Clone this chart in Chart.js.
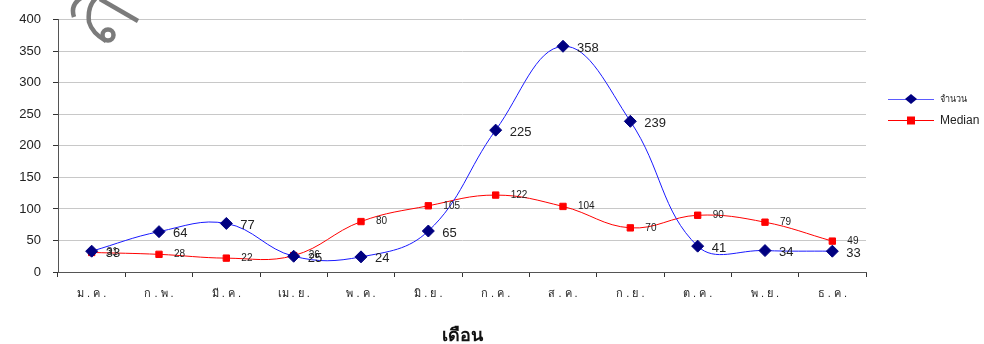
<!DOCTYPE html>
<html>
<head>
<meta charset="utf-8">
<script src="https://cdn.jsdelivr.net/npm/chart.js@4/dist/chart.umd.min.js"></script>
<style>
  html, body { margin: 0; padding: 0; background: #fff; }
  #wrap { width: 984px; height: 344px; position: relative; }
</style>
</head>
<body>
<div id="wrap"><canvas id="c" width="984" height="344"></canvas></div>
<script>
// Monthly counts and monthly median
const months = ['ม . ค .', 'ก . พ .', 'มี . ค .', 'เม . ย .', 'พ . ค .', 'มิ . ย .', 'ก . ค .', 'ส . ค .', 'ก . ย .', 'ต . ค .', 'พ . ย .', 'ธ . ค .'];
const countValues = [33, 64, 77, 25, 24, 65, 225, 358, 239, 41, 34, 33];
const medianValues = [31, 28, 22, 26, 80, 105, 122, 104, 70, 90, 79, 49];
const seriesNames = ['จำนวน', 'Median'];
const yTicks = [0, 50, 100, 150, 200, 250, 300, 350, 400];
const axisTitle = 'เดือน';

const FONT = "'Liberation Sans', Arial, sans-serif";

// value labels to the right of each marker
const valueLabels = {
  id: 'valueLabels',
  afterDatasetsDraw(chart) {
    const ctx = chart.ctx;
    ctx.save();
    ctx.textBaseline = 'middle';
    ctx.textAlign = 'left';
    chart.data.datasets.forEach((ds, i) => {
      const meta = chart.getDatasetMeta(i);
      ctx.font = (i === 0 ? '13px ' : '10px ') + FONT;
      ctx.fillStyle = '#222';
      meta.data.forEach((pt, j) => {
        ctx.fillText(String(ds.data[j]), pt.x + (i === 0 ? 14 : 15), pt.y + (i === 0 ? 2 : 0));
      });
    });
    ctx.restore();
  }
};

// legend at the right with line-through markers
const sideLegend = {
  id: 'sideLegend',
  afterDraw(chart) {
    const ctx = chart.ctx;
    ctx.save();
    const x0 = 888, x1 = 934;
    const rows = [99, 120];
    chart.data.datasets.forEach((ds, i) => {
      const y = rows[i];
      ctx.strokeStyle = i === 0 ? '#5b5bff' : ds.borderColor;
      ctx.lineWidth = 1;
      ctx.beginPath(); ctx.moveTo(x0, y + 0.5); ctx.lineTo(x1, y + 0.5); ctx.stroke();
      const mx = (x0 + x1) / 2;
      ctx.fillStyle = ds.pointBackgroundColor;
      if (i === 0) {
        ctx.beginPath();
        ctx.moveTo(mx, y - 5); ctx.lineTo(mx + 6, y); ctx.lineTo(mx, y + 5); ctx.lineTo(mx - 6, y);
        ctx.closePath(); ctx.fill();
      } else {
        ctx.fillRect(mx - 4, y - 3.5, 8, 8);
      }
      ctx.fillStyle = '#222';
      ctx.textBaseline = 'middle';
      ctx.font = (i === 0 ? '9px ' : '12px ') + FONT;
      ctx.fillText(seriesNames[i], 940, y + 1);
    });
    ctx.restore();
  }
};

// faded ornament at the top left corner
const cornerGlyph = {
  id: 'cornerGlyph',
  beforeDatasetsDraw(chart) {
    const ctx = chart.ctx;
    ctx.save();
    ctx.strokeStyle = '#7b7b7b';
    ctx.lineWidth = 4.5;
    ctx.lineCap = 'butt';
    ctx.beginPath();
    ctx.moveTo(74, 17);
    ctx.quadraticCurveTo(70, 5, 81, -2);
    ctx.stroke();
    ctx.beginPath();
    ctx.moveTo(97, -3);
    ctx.quadraticCurveTo(87, 6, 89, 22);
    ctx.quadraticCurveTo(92, 33, 106, 41);
    ctx.stroke();
    ctx.beginPath();
    ctx.arc(108, 35, 5.5, 0, Math.PI * 2);
    ctx.stroke();
    ctx.beginPath();
    ctx.moveTo(100, -1);
    ctx.lineTo(138, 21);
    ctx.stroke();
    ctx.restore();
  }
};

new Chart(document.getElementById('c'), {
  type: 'line',
  data: {
    labels: months,
    datasets: [
      {
        label: seriesNames[0],
        data: countValues,
        borderColor: '#1a1aff',
        borderWidth: 1,
        pointStyle: 'rectRot',
        pointRadius: 6,
        pointBackgroundColor: '#000080',
        pointBorderColor: '#000080',
        tension: 0.4,
        cubicInterpolationMode: 'default'
      },
      {
        label: seriesNames[1],
        data: medianValues,
        borderColor: '#ff0000',
        borderWidth: 1,
        pointStyle: 'rect',
        pointRadius: 4.5,
        pointBackgroundColor: '#ff0000',
        pointBorderColor: '#ff0000',
        tension: 0.4
      }
    ]
  },
  options: {
    responsive: false,
    animation: false,
    layout: { padding: { top: 18, right: 118, left: 0, bottom: 0 } },
    plugins: { legend: { display: false }, tooltip: { enabled: false } },
    scales: {
      x: {
        offset: true,
        grid: { display: true, offset: true, drawOnChartArea: false, color: '#333', tickLength: 5 },
        border: { color: '#555', width: 1 },
        ticks: { color: '#222', font: { size: 11, family: FONT }, padding: 10, maxRotation: 0, autoSkip: false },
        title: { display: true, text: axisTitle, color: '#111', font: { size: 18, weight: 'bold', family: FONT }, padding: { top: 20, bottom: -3 } },
        afterFit(s) { s.height = 72; }
      },
      y: {
        min: 0, max: 400,
        afterBuildTicks(s) { s.ticks = yTicks.map(v => ({ value: v })); },
        grid: { color: '#c8c8c8', tickLength: 5, tickColor: '#333' },
        border: { color: '#555', width: 1 },
        ticks: { color: '#222', font: { size: 13, family: FONT }, padding: 12 },
        afterFit(s) { s.width = 58; }
      }
    }
  },
  plugins: [cornerGlyph, valueLabels, sideLegend]
});
</script>
</body>
</html>
